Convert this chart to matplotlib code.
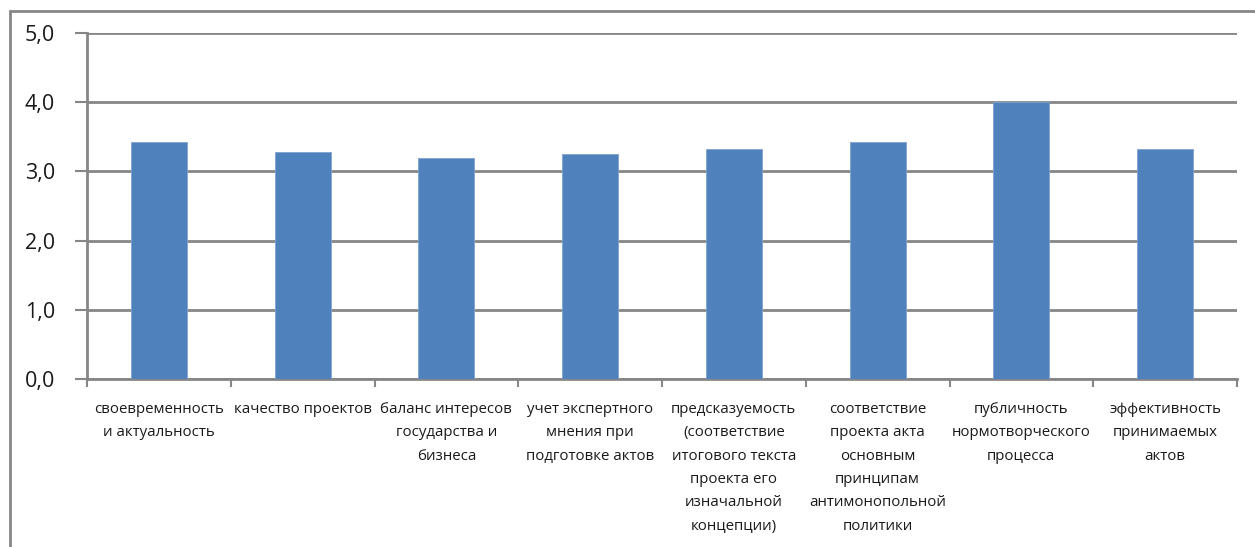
import matplotlib.pyplot as plt
from matplotlib.patches import Rectangle

categories = [
    "своевременность\nи актуальность",
    "качество проектов",
    "баланс интересов\nгосударства и\nбизнеса",
    "учет экспертного\nмнения при\nподготовке актов",
    "предсказуемость\n(соответствие\nитогового текста\nпроекта его\nизначальной\nконцепции)",
    "соответствие\nпроекта акта\nосновным\nпринципам\nантимонопольной\nполитики",
    "публичность\nнормотворческого\nпроцесса",
    "эффективность\nпринимаемых\nактов",
]
scores = [3.42, 3.28, 3.20, 3.25, 3.32, 3.42, 4.0, 3.32]
yticks = [0, 1, 2, 3, 4, 5]
ytick_labels = ["0,0", "1,0", "2,0", "3,0", "4,0", "5,0"]

W, H = 1255, 547
fig = plt.figure(figsize=(W / 100, H / 100), dpi=100)
ax = fig.add_axes([87 / W, 1 - 379 / H, (1237 - 87) / W, (379 - 33) / H])

grey = "#868686"
x = range(len(scores))
ax.bar(x, scores, width=0.39, color="#4F81BD", edgecolor="#7FA3D0", linewidth=0.6, zorder=3)

ax.set_xlim(-0.5, len(scores) - 0.5)
ax.set_ylim(0, 5)
ax.set_yticks(yticks)
ax.set_yticklabels(ytick_labels, family="Open Sans", fontsize=15.5, color="#1a1a1a")
ax.yaxis.grid(True, color=grey, linewidth=2.0, zorder=0)
ax.tick_params(axis="y", length=9, width=1.5, color=grey, pad=14)

# category boundary ticks below the axis, labels centred under the bars
ax.set_xticks([i - 0.5 for i in range(len(scores) + 1)])
ax.set_xticklabels([])
ax.tick_params(axis="x", length=6, width=1.5, color=grey)
for i, lab in enumerate(categories):
    ax.text(i, -0.33, lab, ha="center", va="top", family="Open Sans", fontsize=10.8,
            color="#1a1a1a", linespacing=1.76, transform=ax.transData, clip_on=False)

for s in ["top", "right"]:
    ax.spines[s].set_visible(False)
ax.spines["left"].set_color(grey)
ax.spines["left"].set_linewidth(2.0)
ax.spines["bottom"].set_color(grey)
ax.spines["bottom"].set_linewidth(2.0)

# outer chart frame
fig.patches.append(Rectangle((10 / W, -0.1), 1.2, 1 - 11 / H + 0.1, transform=fig.transFigure,
                             fill=False, edgecolor=grey, linewidth=2.0))

fig.savefig("out.png", dpi=100)
